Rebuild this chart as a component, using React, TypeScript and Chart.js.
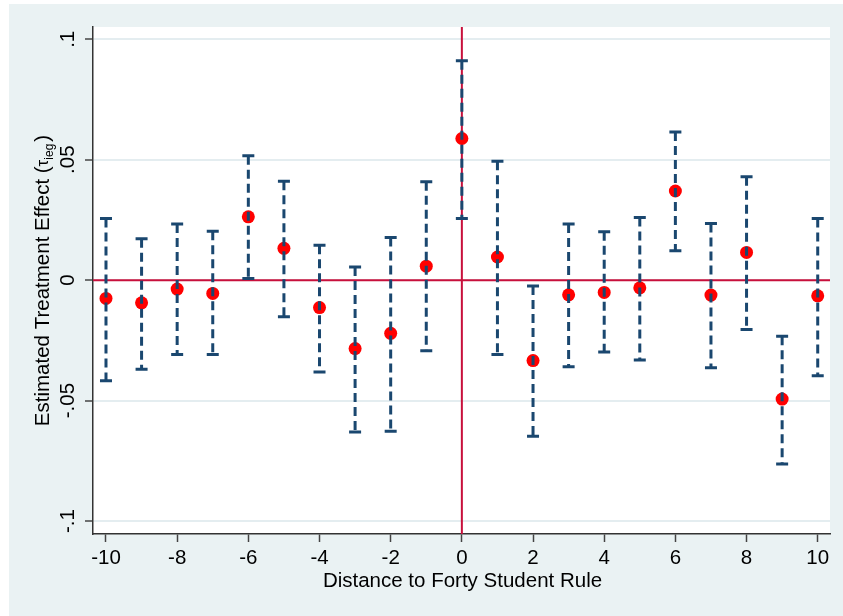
import React, { useEffect, useRef } from "react";
import { Chart, registerables } from "chart.js";

Chart.register(...registerables);

const distance = [-10, -9, -8, -7, -6, -5, -4, -3, -2, -1, 0, 1, 2, 3, 4, 5, 6, 7, 8, 9, 10];
const estimate = [-0.0076, -0.0094, -0.0037, -0.0055, 0.0263, 0.0132, -0.0114, -0.0284, -0.0221, 0.0058, 0.0588, 0.0096, -0.0334, -0.0061, -0.0051, -0.0032, 0.037, -0.0062, 0.0115, -0.0494, -0.0065];
const upper = [0.0256, 0.0172, 0.0233, 0.0203, 0.0516, 0.0411, 0.0145, 0.0055, 0.0177, 0.0408, 0.0911, 0.0494, -0.0024, 0.0233, 0.0201, 0.026, 0.0615, 0.0235, 0.0429, -0.0233, 0.0256];
const lower = [-0.0418, -0.037, -0.0309, -0.0309, 0.0007, -0.0152, -0.0381, -0.0631, -0.0627, -0.0293, 0.0256, -0.0309, -0.0648, -0.036, -0.0298, -0.0332, 0.0122, -0.0364, -0.0205, -0.0763, -0.0397];

const xTicks = [-10, -8, -6, -4, -2, 0, 2, 4, 6, 8, 10];
const yTicks = [-0.1, -0.05, 0, 0.05, 0.1];
const yTickLabels = ["-.1", "-.05", "0", ".05", ".1"];

const xTitle = "Distance to Forty Student Rule";
const yTitleMain = "Estimated Treatment Effect (";
const yTitleSym = "τ";
const yTitleSub = "ieg";
const yTitleEnd = ")";

const FONT = "'Liberation Sans', Arial, sans-serif";
const BG = "#eaf2f3";
const NAVY = "#1a476f";
const CRIMSON = "#c8103c";

export default function App() {
  const ref = useRef<HTMLCanvasElement | null>(null);

  useEffect(() => {
    const canvas = ref.current;
    if (!canvas) return;

    const customPlugin = {
      id: "custom",
      beforeDraw(chart: any) {
        const { ctx, chartArea } = chart;
        ctx.save();
        ctx.fillStyle = BG;
        ctx.fillRect(0, 0, chart.width, chart.height);
        ctx.fillStyle = "#ffffff";
        ctx.fillRect(chartArea.left, chartArea.top, chartArea.right - chartArea.left, chartArea.bottom - chartArea.top);
        ctx.restore();
      },
      beforeDatasetsDraw(chart: any) {
        const { ctx, chartArea } = chart;
        const xs = chart.scales.x;
        const ys = chart.scales.y;
        ctx.save();
        ctx.strokeStyle = CRIMSON;
        ctx.lineWidth = 2;
        const y0 = ys.getPixelForValue(0);
        const x0 = xs.getPixelForValue(0);
        ctx.beginPath();
        ctx.moveTo(chartArea.left, y0);
        ctx.lineTo(chartArea.right, y0);
        ctx.moveTo(x0, chartArea.top);
        ctx.lineTo(x0, chartArea.bottom);
        ctx.stroke();
        ctx.restore();
      },
      afterDatasetsDraw(chart: any) {
        const { ctx } = chart;
        const xs = chart.scales.x;
        const ys = chart.scales.y;
        ctx.save();
        ctx.strokeStyle = NAVY;
        for (let i = 0; i < distance.length; i++) {
          const x = xs.getPixelForValue(distance[i]);
          const yu = ys.getPixelForValue(upper[i]);
          const yl = ys.getPixelForValue(lower[i]);
          ctx.lineWidth = 3;
          ctx.setLineDash([9, 5]);
          ctx.beginPath();
          ctx.moveTo(x, yu);
          ctx.lineTo(x, yl);
          ctx.stroke();
          ctx.setLineDash([]);
          ctx.beginPath();
          ctx.moveTo(x - 6, yu);
          ctx.lineTo(x + 6, yu);
          ctx.moveTo(x - 6, yl);
          ctx.lineTo(x + 6, yl);
          ctx.stroke();
        }
        ctx.restore();
      },
      afterDraw(chart: any) {
        const { ctx, chartArea } = chart;
        const ys = chart.scales.y;
        ctx.save();
        ctx.fillStyle = "#000";
        ctx.font = `20.5px ${FONT}`;
        for (let i = 0; i < yTicks.length; i++) {
          const y = ys.getPixelForValue(yTicks[i]);
          ctx.save();
          ctx.translate(65, y);
          ctx.rotate(-Math.PI / 2);
          ctx.textAlign = "center";
          ctx.textBaseline = "alphabetic";
          ctx.fillText(yTickLabels[i], 0, 0);
          ctx.restore();
        }
        ctx.textAlign = "center";
        ctx.textBaseline = "alphabetic";
        ctx.fillText(xTitle, (chartArea.left + chartArea.right) / 2 + 1, 583);
        const cy = (chartArea.top + chartArea.bottom) / 2;
        ctx.save();
        ctx.translate(40, cy);
        ctx.rotate(-Math.PI / 2);
        ctx.textAlign = "left";
        const bigFont = `20.5px ${FONT}`;
        const symFont = `17px ${FONT}`;
        const subFont = `12px ${FONT}`;
        ctx.font = bigFont;
        const w1 = ctx.measureText(yTitleMain).width;
        const w4 = ctx.measureText(yTitleEnd).width;
        ctx.font = symFont;
        const w2 = ctx.measureText(yTitleSym).width;
        ctx.font = subFont;
        const w3 = ctx.measureText(yTitleSub).width;
        const total = w1 + w2 + w3 + w4 + 2;
        let px = -total / 2;
        ctx.font = bigFont;
        ctx.fillText(yTitleMain, px, 0);
        px += w1;
        ctx.font = symFont;
        ctx.fillText(yTitleSym, px, -1);
        px += w2;
        ctx.font = subFont;
        ctx.fillText(yTitleSub, px, 4);
        px += w3 + 2;
        ctx.font = bigFont;
        ctx.fillText(yTitleEnd, px, 0);
        ctx.restore();
        ctx.restore();
      },
    };

    const chart = new Chart(canvas, {
      type: "scatter",
      data: {
        datasets: [
          {
            data: distance.map((d, i) => ({ x: d, y: estimate[i] })),
            backgroundColor: "#ff0000",
            borderWidth: 0,
            pointRadius: 6.5,
            pointHoverRadius: 6.5,
          },
        ],
      },
      options: {
        animation: false,
        responsive: false,
        devicePixelRatio: 1,
        layout: { padding: { top: 23, right: 13, left: 0, bottom: 0 } },
        plugins: { legend: { display: false }, tooltip: { enabled: false } },
        scales: {
          x: {
            type: "linear",
            min: -10.365,
            max: 10.345,
            afterBuildTicks: (s: any) => {
              s.ticks = xTicks.map((v) => ({ value: v }));
            },
            afterFit: (s: any) => {
              s.height = 82;
            },
            ticks: {
              font: { family: FONT, size: 20.5 },
              color: "#000",
              padding: 4,
              maxRotation: 0,
              autoSkip: false,
              callback: (v: any) => String(v),
            },
            grid: {
              drawOnChartArea: false,
              drawTicks: true,
              tickLength: 8,
              tickColor: "#444",
              tickWidth: 1.5,
              color: "rgba(0,0,0,0)",
            },
            border: { display: true, color: "#333", width: 1.5 },
          },
          y: {
            type: "linear",
            min: -0.1054,
            max: 0.1051,
            afterBuildTicks: (s: any) => {
              s.ticks = yTicks.map((v) => ({ value: v }));
            },
            afterFit: (s: any) => {
              s.width = 84;
            },
            ticks: { display: false },
            grid: {
              drawOnChartArea: true,
              drawTicks: true,
              tickLength: 8,
              tickColor: "#444",
              tickWidth: 1.5,
              color: "#e4edf0",
              lineWidth: 2,
            },
            border: { display: true, color: "#333", width: 1.5 },
          },
        },
      },
      plugins: [customPlugin],
    } as any);

    return () => chart.destroy();
  }, []);

  return (
    <div style={{ position: "absolute", left: 9, top: 4, width: 834, height: 612 }}>
      <canvas ref={ref} width={834} height={612} style={{ display: "block" }} />
    </div>
  );
}
